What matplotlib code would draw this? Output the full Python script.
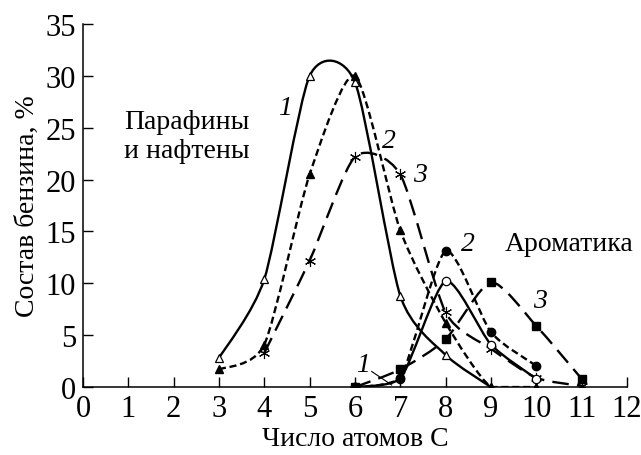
import numpy as np
import matplotlib.pyplot as plt
from matplotlib.path import Path
from matplotlib.patches import PathPatch

# Paraffins and naphthenes (curves 1, 2, 3)
par1_x = [3, 4, 5, 6, 7, 8, 9]
par1_y = [2.8, 10.4, 30.0, 29.4, 8.8, 3.1, 0.0]
par2_x = [3, 4, 5, 6, 7, 8, 9, 10]
par2_y = [1.7, 4.1, 20.5, 30.0, 15.1, 6.2, 0.0, 0.0]
par3_x = [4, 5, 6, 7, 8, 9, 10, 11]
par3_y = [3.3, 12.2, 22.2, 20.5, 7.2, 3.7, 0.9, 0.1]

# Aromatics (curves 1, 2, 3)
aro1_x = [6, 7, 8, 9, 10]
aro1_y = [0.0, 0.8, 10.2, 4.1, 0.8]
aro2_x = [6, 7, 8, 9, 10]
aro2_y = [0.0, 0.9, 13.1, 5.3, 2.05]
aro3_x = [6, 7, 8, 9, 10, 11]
aro3_y = [0.0, 1.7, 4.6, 10.1, 5.9, 0.8]

xticks = list(range(0, 13))
yticks = list(range(0, 36, 5))

plt.rcParams['font.family'] = ['Liberation Serif', 'DejaVu Serif']


def smooth(ax, xs, ys, ls, k=0.7, lw=1.7):
    # catmull-rom style curve drawn as bezier path in data coords
    p = np.column_stack([xs, ys]).astype(float)
    n = len(p)
    verts = [tuple(p[0])]
    codes = [Path.MOVETO]
    for i in range(n - 1):
        p0 = p[max(i - 1, 0)]
        p1 = p[i]
        p2 = p[i + 1]
        p3 = p[min(i + 2, n - 1)]
        c1 = p1 + k * (p2 - p0) / 6
        c2 = p2 - k * (p3 - p1) / 6
        c1[1] = max(c1[1], 0)
        c2[1] = max(c2[1], 0)
        verts += [tuple(c1), tuple(c2), tuple(p2)]
        codes += [Path.CURVE4] * 3
    patch = PathPatch(Path(verts, codes), facecolor='none', edgecolor='black',
                      lw=lw, linestyle=ls, capstyle='butt')
    ax.add_patch(patch)


fig = plt.figure(figsize=(6.41, 4.56), dpi=100)
ax = fig.add_axes([0.1295, 0.149, 0.8485, 0.796])

short = (0, (3.0, 1.6))
long_ = (0, (7.0, 3.5))

smooth(ax, par1_x, par1_y, '-')
smooth(ax, par2_x, par2_y, short)
smooth(ax, par3_x, par3_y, long_)
smooth(ax, aro1_x, aro1_y, '-')
smooth(ax, aro2_x, aro2_y, short)
smooth(ax, aro3_x, aro3_y, long_)

ms = 6
ax.plot(par1_x, par1_y, ls='none', marker='^', ms=ms, mfc='white', mec='black', mew=0.9, zorder=3)
ax.plot(par2_x, par2_y, ls='none', marker='^', ms=ms, color='black', zorder=3)
ax.plot(par3_x, par3_y, ls='none', marker=(6, 2, 0), ms=8, color='black', mew=0.8, zorder=3)
ax.plot(aro1_x, aro1_y, ls='none', marker='o', ms=ms, mfc='white', mec='black', mew=0.9, zorder=3)
ax.plot(aro2_x, aro2_y, ls='none', marker='o', ms=ms, color='black', zorder=3)
ax.plot(aro3_x, aro3_y, ls='none', marker='s', ms=ms, color='black', zorder=3)

ax.set_xlim(0, 12)
ax.set_ylim(0, 35)
ax.set_xticks(xticks)
ax.set_yticks(yticks)
ax.tick_params(direction='in', length=7, width=1, labelsize=22, pad=5)
for s in ['top', 'right']:
    ax.spines[s].set_visible(False)
for s in ['left', 'bottom']:
    ax.spines[s].set_linewidth(1.1)
ax.set_xlabel('Число атомов С', fontsize=20, labelpad=2)
ax.set_ylabel('Состав бензина, %', fontsize=20, labelpad=4)

ax.text(0.9, 24.2, 'Парафины\nи нафтены', fontsize=20, ha='left', va='center', linespacing=1.2)
ax.text(9.31, 13.8, 'Ароматика', fontsize=20, ha='left', va='center')

it = dict(fontsize=20, style='italic', ha='center', va='center')
ax.text(4.46, 27.0, '1', **it)
ax.text(6.75, 23.8, '2', **it)
ax.text(7.43, 20.5, '3', **it)
ax.text(8.49, 13.8, '2', **it)
ax.text(10.08, 8.3, '3', **it)
ax.text(6.18, 2.2, '1', **it)
ax.plot([6.37, 6.81], [1.5, 0.2], color='black', lw=0.8)

fig.savefig('out.png', dpi=100)
